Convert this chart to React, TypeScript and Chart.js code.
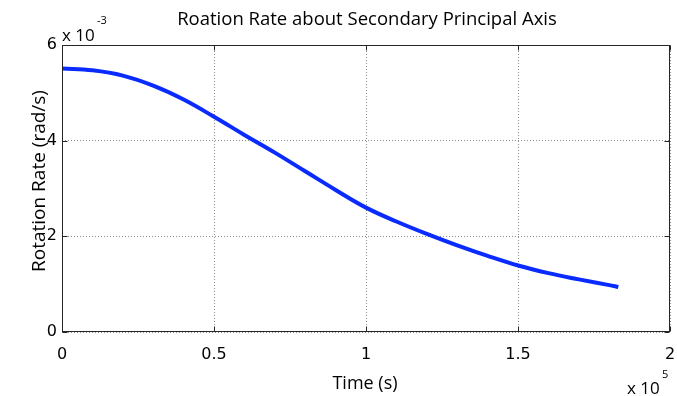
import React, { useEffect, useRef } from "react";
import { Chart, registerables } from "chart.js";

Chart.register(...registerables);

const timeS = [0, 10000, 20000, 30000, 40000, 50000, 60000, 70000, 80000, 90000, 100000, 110000, 120000, 130000, 140000, 150000, 160000, 170000, 180000, 183000];
const rate = [0.00551, 0.00547, 0.00536, 0.00515, 0.00486, 0.00450, 0.00412, 0.00375, 0.00336, 0.00297, 0.00260, 0.00231, 0.00205, 0.00181, 0.00159, 0.00139, 0.00123, 0.00110, 0.00098, 0.00094];
const xTicks = [0, 50000, 100000, 150000, 200000];
const yTicks = [0, 0.002, 0.004, 0.006];
const chartTitle = "Roation Rate about Secondary Principal Axis";
const xLabel = "Time (s)";
const yLabel = "Rotation Rate (rad/s)";

const decor = {
  id: "decor",
  afterDraw(chart: any) {
    const ctx = chart.ctx;
    const a = chart.chartArea;
    const xs = chart.scales.x;
    const ys = chart.scales.y;
    ctx.save();
    ctx.strokeStyle = "#262626";
    ctx.lineWidth = 1;
    const L = Math.round(a.left) + 0.5;
    const R = Math.round(a.right) - 0.5;
    const T = Math.round(a.top) + 0.5;
    const B = Math.round(a.bottom) - 0.5;
    ctx.strokeRect(L, T, R - L, B - T);
    ctx.beginPath();
    const tl = 5;
    for (const v of xTicks) {
      const px = Math.round(xs.getPixelForValue(v)) + 0.5;
      ctx.moveTo(px, B);
      ctx.lineTo(px, B - tl);
      ctx.moveTo(px, T);
      ctx.lineTo(px, T + tl);
    }
    for (const v of yTicks) {
      const py = Math.round(ys.getPixelForValue(v)) + 0.5;
      ctx.moveTo(L, py);
      ctx.lineTo(L + tl, py);
      ctx.moveTo(R, py);
      ctx.lineTo(R - tl, py);
    }
    ctx.stroke();
    ctx.fillStyle = "#000";
    ctx.textBaseline = "alphabetic";
    ctx.textAlign = "center";
    ctx.font = "18.5px 'Open Sans'";
    ctx.fillText(chartTitle, 367, 25);
    ctx.font = "18px 'Open Sans'";
    ctx.fillText(xLabel, 365, 389);
    ctx.save();
    ctx.translate(45, 181);
    ctx.rotate(-Math.PI / 2);
    ctx.font = "19px 'Open Sans'";
    ctx.fillText(yLabel, 0, 0);
    ctx.restore();
    ctx.textAlign = "left";
    ctx.font = "17px 'Open Sans'";
    ctx.fillText("x 10", 62, 41);
    ctx.fillText("x 10", 627, 394);
    ctx.font = "11px 'Open Sans'";
    ctx.fillText("-3", 97, 24);
    ctx.fillText("5", 662, 378);
    ctx.restore();
  },
};

export default function App() {
  const ref = useRef<HTMLCanvasElement>(null);
  useEffect(() => {
    if (!ref.current) return;
    const chart = new Chart(ref.current, {
      type: "line",
      data: {
        datasets: [
          {
            data: timeS.map((t, i) => ({ x: t, y: rate[i] })),
            borderColor: "#0a2bff",
            borderWidth: 4,
            pointRadius: 0,
            tension: 0.4,
            fill: false,
          },
        ],
      },
      plugins: [decor],
      options: {
        responsive: false,
        animation: false,
        devicePixelRatio: 1,
        layout: { padding: { left: 0, top: 45, right: 7, bottom: 0 } },
        plugins: { legend: { display: false }, title: { display: false }, tooltip: { enabled: false } },
        scales: {
          x: {
            type: "linear",
            min: 0,
            max: 200000,
            afterFit: (s: any) => { s.height = 64; s.paddingLeft = 0; s.paddingRight = 0; },
            afterBuildTicks: (s: any) => { s.ticks = xTicks.map((v) => ({ value: v })); },
            ticks: {
              padding: 13,
              color: "#000",
              font: { family: "DejaVu Sans", size: 16 },
              maxRotation: 0,
              callback: (v: any) => String(Number(v) / 1e5),
            },
            grid: { color: "#8a8a8a", lineWidth: 1, drawTicks: false },
            border: { display: false, dash: [1, 2] },
          },
          y: {
            type: "linear",
            min: 0,
            max: 0.006,
            afterFit: (s: any) => { s.width = 62; s.paddingTop = 0; s.paddingBottom = 0; },
            afterBuildTicks: (s: any) => { s.ticks = yTicks.map((v) => ({ value: v })); },
            ticks: {
              padding: 5,
              color: "#000",
              font: { family: "DejaVu Sans", size: 16 },
              callback: (v: any) => String(Math.round(Number(v) * 1000)),
            },
            grid: { color: "#8a8a8a", lineWidth: 1, drawTicks: false },
            border: { display: false, dash: [1, 2] },
          },
        },
      },
    } as any);
    return () => chart.destroy();
  }, []);
  return (
    <div style={{ position: "fixed", left: 0, top: 0, width: 677, height: 396, background: "#fff" }}>
      <canvas ref={ref} width={677} height={396} style={{ width: 677, height: 396 }} />
    </div>
  );
}
